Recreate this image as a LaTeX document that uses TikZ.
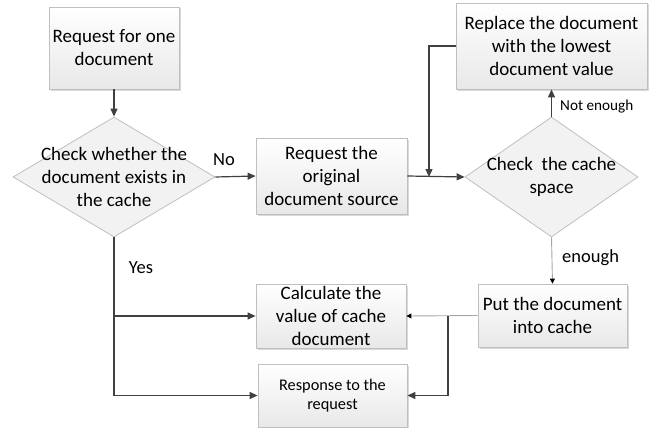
\documentclass[tikz,border=0pt]{standalone}
\usepackage{fontspec}
\setmainfont{Carlito}
\usetikzlibrary{shapes.geometric,arrows.meta,shadows}
\definecolor{lndark}{HTML}{404040}
\definecolor{lnlight}{HTML}{A6A6A6}
\definecolor{bdr}{HTML}{BFBFBF}
\definecolor{dfill}{HTML}{F2F2F2}
\tikzset{
  box/.style={rectangle, draw=bdr, line width=0.8pt, top color=white, bottom color=black!9,
    drop shadow={shadow xshift=1.5pt, shadow yshift=-1.5pt, fill=black!25, opacity=0.6},
    align=center, inner sep=0pt, font=\fontsize{19}{23}\selectfont},
  dia/.style={diamond, draw=bdr, line width=0.8pt, fill=dfill, inner sep=0pt},
  dtext/.style={align=center, inner sep=0pt, font=\fontsize{19}{23}\selectfont},
  lbl/.style={inner sep=0pt, font=\fontsize{18.5}{22}\selectfont},
  conn/.style={draw=lndark, line width=1.2pt, -{Triangle[length=8pt,width=7pt]}},
  line/.style={draw=lndark, line width=1.2pt},
  lconn/.style={draw=lnlight, line width=0.9pt, -{Triangle[length=5pt,width=5pt,color=black]}},
}
\begin{document}
\begin{tikzpicture}[x=1pt,y=-1pt]
\useasboundingbox (0,0) rectangle (656,428);
% nodes
\node[box, minimum width=130pt, minimum height=82pt] (b1) at (114,48) {Request for one\\document};
\node[dia, minimum width=202pt, minimum height=120pt] (d1) at (114,177) {};
\node[dtext] (d1t) at (114,177) {Check whether the\\document exists in\\the cache};
\node[box, minimum width=151pt, minimum height=76pt] (b2) at (331.5,176) {Request the\\original\\document source};
\node[dia, minimum width=173pt, minimum height=120pt] (d2) at (551.5,177) {};
\node[dtext] (d2t) at (551.5,177) {Check~~the cache\\space};
\node[box, minimum width=191pt, minimum height=86pt] (b3) at (551.5,46) {Replace the document\\with the lowest\\document value};
\node[box, minimum width=149pt, minimum height=63pt] (b4) at (552.5,315.5) {Put the document\\into cache};
\node[box, minimum width=150pt, minimum height=64pt] (b5) at (331,316) {Calculate the\\value of cache\\document};
\node[box, minimum width=149pt, minimum height=63pt, font=\fontsize{16.3}{19}\selectfont] (b6) at (332.5,395.5) {Response to the\\request};
% coordinates
\coordinate (j1) at (429,177);
\coordinate (j2) at (448,316);
\coordinate (y1) at (114,316);
% connectors
\draw[conn] (b1) -- (d1);
\draw[conn] (d1.east) -- (b2.west);
\draw[conn] (b2.east) -- (d2.west);
\draw[conn] (d2.north) -- (b3.south);
\draw[conn] (b3.west) -| (j1);
\draw[lconn] (d2.south) -- (b4.north);
\draw[lconn] (b4.west) -- (b5.east);
\draw[conn] (j2) |- (b6.east);
\draw[conn] (d1.south) |- (b6.west);
\draw[conn] (y1) -- (b5.west);
% labels
\node[lbl] (lno) at (224,160) {No};
\node[lbl] (lyes) at (141,268) {Yes};
\node[lbl, anchor=west] (len) at (562,258) {enough};
\node[lbl, anchor=west, font=\fontsize{15.2}{18}\selectfont] (lne) at (560,107) {Not enough};
\end{tikzpicture}
\end{document}
